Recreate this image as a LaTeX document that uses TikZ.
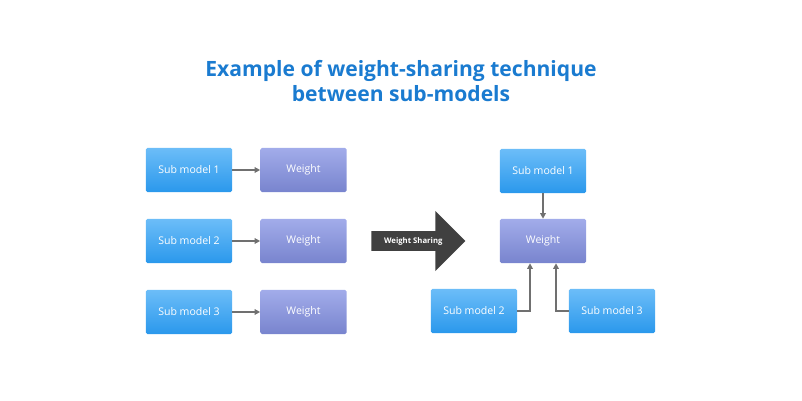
\documentclass[tikz,border=0pt]{standalone}
\usepackage{fontspec}
\setmainfont{Open Sans}
\usetikzlibrary{positioning, arrows.meta, shapes.arrows}
\definecolor{titleblue}{HTML}{1A7BD0}
\definecolor{subtop}{HTML}{6CBDF8}
\definecolor{subbot}{HTML}{2A98EC}
\definecolor{wtop}{HTML}{A2ACEA}
\definecolor{wbot}{HTML}{7884CE}
\definecolor{linkgray}{HTML}{707070}

\tikzset{
  subbox/.style={minimum width=2.15cm, minimum height=1.1cm, rounded corners=1pt,
    top color=subtop, bottom color=subbot, text=white, font=\fontsize{7.5}{9}\selectfont},
  weightbox/.style={subbox, top color=wtop, bottom color=wbot},
  link/.style={draw=linkgray, line width=0.9pt, -{Triangle[length=4pt,width=4pt]}}
}

\begin{document}
\begin{tikzpicture}[x=0.025cm, y=-0.025cm]
    \useasboundingbox (0,0) rectangle (802,401);

    % Titulo
    \node[font=\fontsize{15}{18}\selectfont\bfseries, text=titleblue, align=center] (title) at (401,81)
        {Example of weight-sharing technique\\between sub-models};

    % Izquierda
    \foreach \i/\y in {1/170, 2/241, 3/312} {
        \node[subbox] (lsub\i) at (189,\y) {Sub model \i};
        \node[weightbox] (lw\i) at (303.5,\y) {Weight};
        \draw[link] (lsub\i) -- (lw\i);
    }

    % Flecha central
    \node[single arrow, fill=black!75, text=white, minimum height=2.35cm, minimum width=1.5cm,
        single arrow head extend=0.35cm, inner sep=2pt, font=\fontsize{5.5}{7}\selectfont\bfseries,
        anchor=west] (share) at (371,241) {Weight Sharing\hspace{0.6cm}};

    % Derecha
    \node[subbox] (rsub1) at (543,171) {Sub model 1};
    \node[weightbox] (rw) at (543,241) {Weight};
    \node[subbox] (rsub2) at (474,311) {Sub model 2};
    \node[subbox] (rsub3) at (612,311) {Sub model 3};
    \draw[link] (rsub1) -- (rw);
    \draw[link] (rsub2.east) -| ([xshift=-13*0.025cm]rw.south);
    \draw[link] (rsub3.west) -| ([xshift=13*0.025cm]rw.south);
\end{tikzpicture}
\end{document}
